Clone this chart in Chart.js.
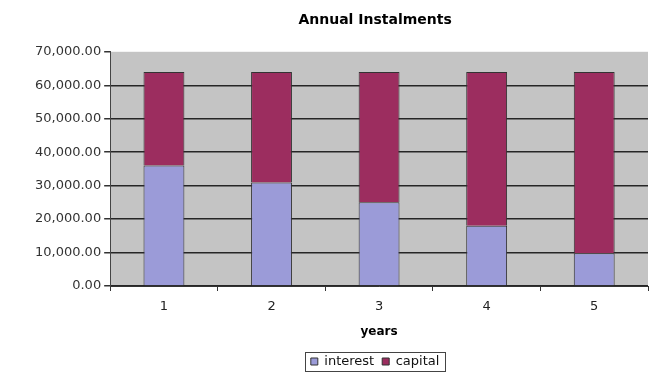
<!DOCTYPE html>
<html>
<head>
<meta charset="utf-8">
<script src="https://cdn.jsdelivr.net/npm/chart.js@4"></script>
<style>
  body { margin: 0; background: #fff; }
  #wrap { width: 651px; height: 382px; }
</style>
</head>
<body>
<div id="wrap"><canvas id="chart" width="651" height="382"></canvas></div>
<script>
// data
const years = ["1", "2", "3", "4", "5"];
const interest = [36000, 30970, 25030, 18020, 9760];
const capital = [27960, 32990, 38930, 45940, 54200];
const yTicks = [0, 10000, 20000, 30000, 40000, 50000, 60000, 70000];

const fontFamily = "'DejaVu Sans', Verdana, sans-serif";

// center title + legend over the plot area (Excel style) and box the legend
const excelLook = {
    id: "excelLook",
    afterLayout(chart) {
        const a = chart.chartArea;
        const mid = (a.left + a.right) / 2 - 4;
        [chart.titleBlock, chart.legend].forEach(b => {
            if (!b) return;
            const off = mid - (b.left + b.right) / 2;
            b.left += off;
            b.right += off;
        });
    },
    beforeDraw(chart) {
        const a = chart.chartArea;
        const ctx = chart.ctx;
        ctx.save();
        ctx.fillStyle = "#c4c4c4";
        ctx.fillRect(a.left, a.top, a.right - a.left, a.bottom - a.top);
        ctx.restore();
    },
    afterDraw(chart) {
        const lg = chart.legend;
        const boxes = lg.legendHitBoxes;
        if (!boxes || !boxes.length) return;
        const first = boxes[0], last = boxes[boxes.length - 1];
        const x1 = first.left - 6, x2 = last.left + last.width + 5;
        const y1 = first.top - 3, y2 = first.top + first.height + 3;
        const ctx = chart.ctx;
        ctx.save();
        ctx.strokeStyle = "#444";
        ctx.lineWidth = 1;
        ctx.strokeRect(Math.round(x1) + 0.5, Math.round(y1) + 0.5, Math.round(x2 - x1), Math.round(y2 - y1));
        ctx.restore();
    }
};

new Chart(document.getElementById("chart"), {
    type: "bar",
    data: {
        labels: years,
        datasets: [
            {
                label: "interest",
                data: interest,
                backgroundColor: "#9b9bd8",
                borderColor: "#333",
                borderWidth: 1
            },
            {
                label: "capital",
                data: capital,
                backgroundColor: "#9c2d5f",
                borderColor: "#333",
                borderWidth: 1
            }
        ]
    },
    options: {
        responsive: false,
        animation: false,
        categoryPercentage: 1,
        barPercentage: 0.38,
        layout: { padding: { left: 32, right: 3, top: 7, bottom: 4 } },
        plugins: {
            title: {
                display: true,
                text: "Annual Instalments",
                color: "#000",
                font: { family: fontFamily, size: 14, weight: "bold" },
                padding: { top: 5, bottom: 23 }
            },
            legend: {
                position: "bottom",
                labels: {
                    boxWidth: 7,
                    boxHeight: 7,
                    color: "#111",
                    padding: 8,
                    font: { family: fontFamily, size: 13 }
                }
            },
            tooltip: { enabled: false }
        },
        scales: {
            x: {
                stacked: true,
                grid: {
                    drawOnChartArea: false,
                    drawTicks: true,
                    tickLength: 5,
                    color: "#333"
                },
                border: { color: "#333", width: 1 },
                ticks: {
                    color: "#222",
                    padding: 8,
                    font: { family: fontFamily, size: 13 }
                },
                title: {
                    display: true,
                    text: "years",
                    color: "#000",
                    font: { family: fontFamily, size: 12, weight: "bold" },
                    padding: { top: 2, bottom: 8 }
                }
            },
            y: {
                stacked: true,
                min: 0,
                max: 70000,
                afterBuildTicks: axis => { axis.ticks = yTicks.map(v => ({ value: v })); },
                grid: {
                    color: c => (c.tick && c.tick.value === 70000) ? "rgba(0,0,0,0)" : "#262626",
                    tickColor: "#333",
                    lineWidth: 1.5,
                    tickLength: 6
                },
                border: { color: "#444", width: 1 },
                ticks: {
                    color: "#333",
                    padding: 3,
                    font: { family: fontFamily, size: 13 },
                    callback: v => Number(v).toLocaleString("en-US", { minimumFractionDigits: 2, maximumFractionDigits: 2 })
                }
            }
        }
    },
    plugins: [excelLook]
});
</script>
</body>
</html>
